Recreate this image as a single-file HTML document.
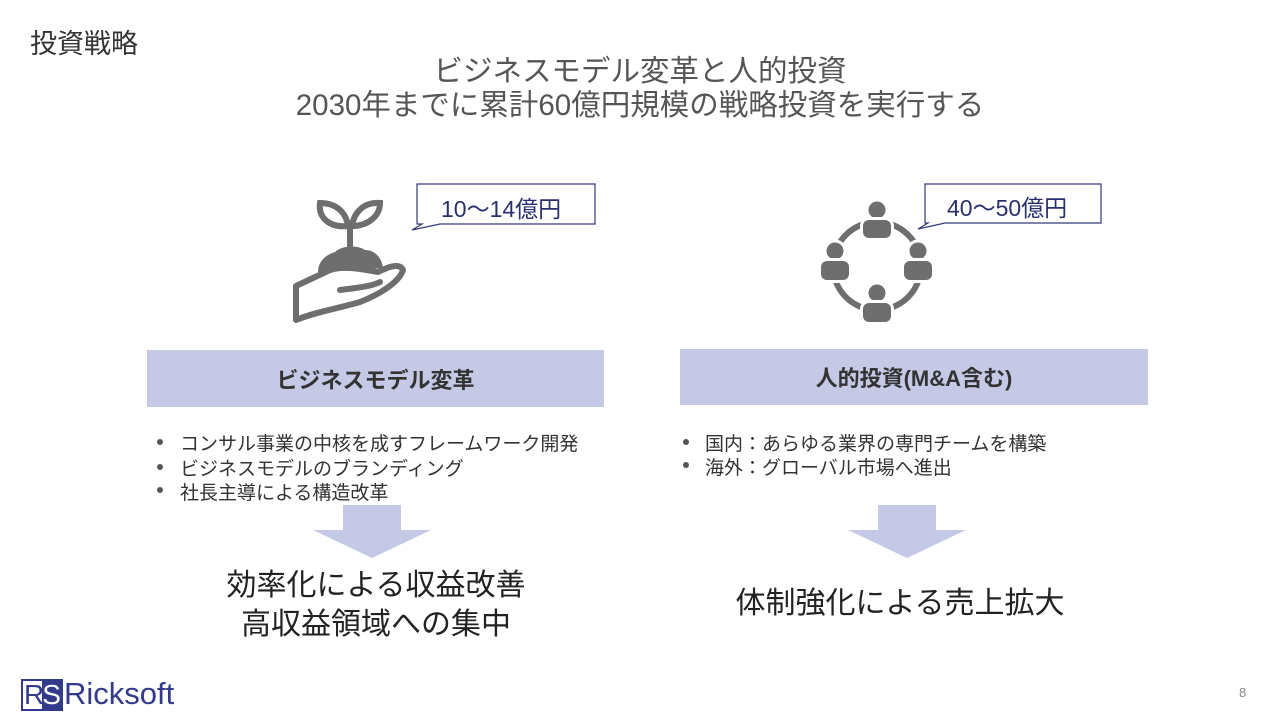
<!DOCTYPE html>
<html><head><meta charset="utf-8"><style>
body{margin:0;width:1280px;height:720px;background:#fff;position:relative;overflow:hidden;font-family:"Liberation Sans","Noto Sans CJK JP",sans-serif}
.a{position:absolute;white-space:nowrap}
.c{transform:translateX(-50%);text-align:center}
.bar{position:absolute;background:#c5c9e6;color:#333;font-weight:bold;font-size:22px;display:flex;align-items:center;justify-content:center}
.bl{font-size:19px;color:#333}
.dot{position:absolute;width:6px;height:6px;border-radius:50%;background:#555}
</style></head><body>
<div class="a" style="left:30px;top:22px;font-size:27px;color:#333">投資戦略</div>
<div class="a c" style="left:640px;top:55px;font-size:29.5px;color:#555;line-height:34px">ビジネスモデル変革と人的投資<br>2030年までに累計60億円規模の戦略投資を実行する</div>

<svg class="a" style="left:0;top:0" width="1280" height="720">
<g fill="#fff" stroke="#333a7a" stroke-width="1.2">
<path d="M417,184 H595 V224 H440 L412,230 L422,224 H417 Z"/>
<path d="M925,184 H1101 V223 H945 L918,229 L928,223 H925 Z"/>
</g>
<g fill="#6e6e6e" stroke="#6e6e6e">
<path d="M350,248 V225" stroke-width="6" fill="none"/>
<path d="M348,226 C330,228 318,218 320,203 C336,203 346,212 348,226Z" fill="none" stroke-width="6"/>
<path d="M352,226 C368,226 380,216 380,203 C364,202 354,212 352,226Z" fill="none" stroke-width="6"/>
<path d="M318,272 C318,262 325,255 335,252 C342,245 358,245 365,250 C375,250 382,258 383,268 Z" stroke="none"/>
<path d="M296,286 L330,270 C345,265 365,270 378,272 C390,266 400,263 403,270 C400,280 385,292 360,302 C340,308 315,312 296,320 Z" fill="none" stroke-width="6" stroke-linejoin="round"/>
<path d="M340,290 C355,288 370,287 380,282" fill="none" stroke-width="6" stroke-linecap="round"/>
</g>
<circle cx="877" cy="266" r="44" fill="none" stroke="#6e6e6e" stroke-width="6"/>
<g fill="#6e6e6e" stroke="#fff" stroke-width="6" paint-order="stroke">
<circle cx="877" cy="210" r="8.5"/><rect x="863" y="220" width="28" height="18" rx="6"/>
<circle cx="835" cy="251" r="8.5"/><rect x="821" y="261" width="28" height="19" rx="6"/>
<circle cx="918" cy="251" r="8.5"/><rect x="904" y="261" width="28" height="19" rx="6"/>
<circle cx="877" cy="293" r="8.5"/><rect x="863" y="303" width="28" height="19" rx="6"/>
</g>
<g fill="#c5c9e6">
<path d="M343,505 H401 V530 H431 L372,558 L313,530 H343 Z"/>
<path d="M878,505 H936 V530 H966 L907,558 L848,530 H878 Z"/>
</g>
<rect x="22" y="680" width="40" height="30" fill="#fff" stroke="#333a8a" stroke-width="2"/>
<rect x="42" y="681" width="19" height="28" fill="#333a8a"/>
</svg>
<div class="a" style="left:441px;top:190px;font-size:23px;color:#2a2f6e">10～14億円</div>
<div class="a" style="left:947px;top:189px;font-size:23px;color:#2a2f6e">40～50億円</div>

<div class="bar" style="left:147px;top:350px;width:457px;height:57px">ビジネスモデル変革</div>
<div class="bar" style="left:680px;top:349px;width:468px;height:56px">人的投資(M&amp;A含む)</div>

<div class="dot" style="left:157px;top:439px"></div><div class="a bl" style="left:180px;top:429px">コンサル事業の中核を成すフレームワーク開発</div>
<div class="dot" style="left:157px;top:464px"></div><div class="a bl" style="left:180px;top:454px">ビジネスモデルのブランディング</div>
<div class="dot" style="left:157px;top:487px"></div><div class="a bl" style="left:180px;top:478px">社長主導による構造改革</div>
<div class="dot" style="left:683px;top:439px"></div><div class="a bl" style="left:705px;top:429px">国内：あらゆる業界の専門チームを構築</div>
<div class="dot" style="left:683px;top:462px"></div><div class="a bl" style="left:705px;top:453px">海外：グローバル市場へ進出</div>

<div class="a c" style="left:376px;top:566px;font-size:30px;color:#222;line-height:39px">効率化による収益改善<br>高収益領域への集中</div>
<div class="a c" style="left:900px;top:578px;font-size:30px;color:#222">体制強化による売上拡大</div>

<div class="a" style="left:24px;top:679px;font-size:28px;color:#333a8a;line-height:32px;letter-spacing:-2px">R<span style="color:#fff">S</span></div>
<div class="a" style="left:64px;top:676px;font-size:31px;color:#333a8a">Ricksoft</div>
<div class="a" style="left:1239px;top:685px;font-size:13px;color:#888">8</div>
</body></html>
